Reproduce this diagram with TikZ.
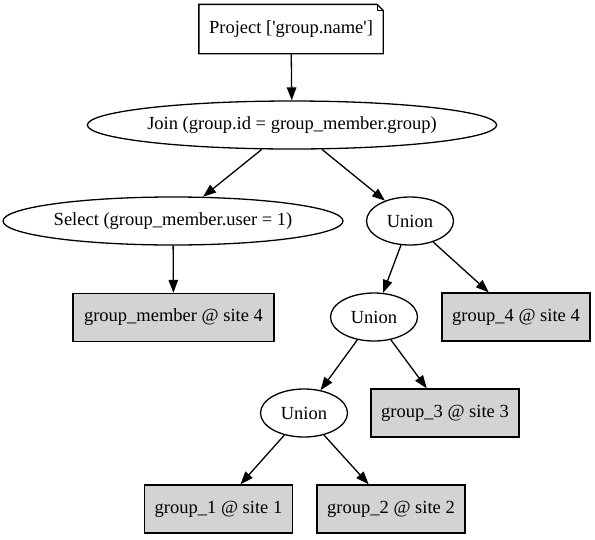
\documentclass[tikz,border=0pt]{standalone}
\usepackage{fontspec}
\setmainfont{Liberation Serif}[Ligatures=TeXOff]
\usetikzlibrary{arrows.meta,shapes.geometric}
\begin{document}
\begin{tikzpicture}[x=1pt,y=-1pt,
  every node/.style={font=\fontsize{18.5}{22}\selectfont, inner sep=0pt, line width=1.3pt},
  ell/.style={draw, ellipse, minimum height=48pt},
  rel/.style={draw, rectangle, fill={rgb,255:red,211;green,211;blue,211}, minimum height=48pt, minimum width=148pt},
  edge/.style={line width=1.3pt, -{Triangle[length=13pt,width=9.5pt]}}]
\useasboundingbox (0,0) rectangle (595,539);
\node (proj) [minimum width=183pt, minimum height=48pt] at (291,29) {Project ['group.name']};
\draw[line width=1.3pt] (proj.south west) -- (proj.south east) -- ([yshift=-6pt]proj.north east)
  -- ([xshift=-6pt]proj.north east) -- (proj.north west) -- cycle;
\draw[line width=1.3pt] ([xshift=-6pt]proj.north east) -- ([xshift=-6pt,yshift=-6pt]proj.north east) -- ([yshift=-6pt]proj.north east);
\node (join) [ell, minimum width=403pt] at (292,125) {Join (group.id = group\_member.group)};
\node (sel) [ell, minimum width=340pt] at (173,221) {Select (group\_member.user = 1)};
\node (u1) [ell, minimum width=87pt] at (410,221) {Union};
\node (gm) [rel, minimum width=201pt] at (173.5,317.5) {group\_member @ site 4};
\node (u2) [ell, minimum width=87pt] at (374,317) {Union};
\node (g4) [rel] at (516,317) {group\_4 @ site 4};
\node (u3) [ell, minimum width=87pt] at (304,413) {Union};
\node (g3) [rel] at (445,413) {group\_3 @ site 3};
\node (g1) [rel] at (218.5,509) {group\_1 @ site 1};
\node (g2) [rel] at (391,509) {group\_2 @ site 2};
\draw[edge] (proj) -- (join);
\draw[edge] (join) -- (sel);
\draw[edge] (join) -- (u1);
\draw[edge] (sel) -- (gm);
\draw[edge] (u1) -- (u2);
\draw[edge] (u1) -- (g4);
\draw[edge] (u2) -- (u3);
\draw[edge] (u2) -- (g3);
\draw[edge] (u3) -- (g1);
\draw[edge] (u3) -- (g2);
\end{tikzpicture}
\end{document}
